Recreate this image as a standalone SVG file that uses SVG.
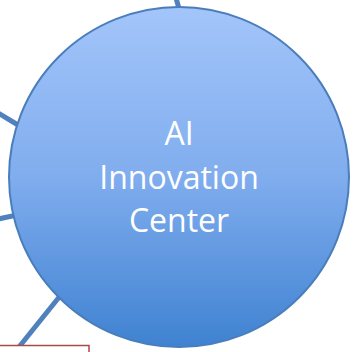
<svg xmlns="http://www.w3.org/2000/svg" width="356" height="352" viewBox="0 0 356 352">
<defs>
<linearGradient id="g" x1="0" y1="0" x2="0" y2="1">
<stop offset="0" stop-color="#a3c5fa"/>
<stop offset="0.5" stop-color="#80adee"/>
<stop offset="1" stop-color="#3f82d1"/>
</linearGradient>
<style>
.c{stroke:#4f81bd;stroke-width:5;stroke-linecap:butt;fill:none}
.t{font-family:"Open Sans",sans-serif;font-size:32px;fill:#ffffff;text-anchor:middle}
</style>
</defs>
<rect width="356" height="352" fill="#ffffff"/>
<g id="connectors">
<line class="c" x1="176" y1="-2" x2="180" y2="12"/>
<line class="c" x1="-2" y1="113" x2="18" y2="125"/>
<line class="c" x1="-2" y1="219" x2="17" y2="215"/>
<line class="c" x1="60" y1="296" x2="19" y2="347"/>
</g>
<g id="box">
<rect x="-2" y="345.5" width="91" height="20" fill="#ffffff" stroke="#a84a48" stroke-width="1.5"/>
</g>
<g id="center">
<circle cx="179" cy="177" r="170" fill="url(#g)" stroke="#4a7ebb" stroke-width="2"/>
<text class="t" x="179" y="145">AI</text>
<text class="t" x="179" y="189">Innovation</text>
<text class="t" x="179" y="232">Center</text>
</g>
</svg>
